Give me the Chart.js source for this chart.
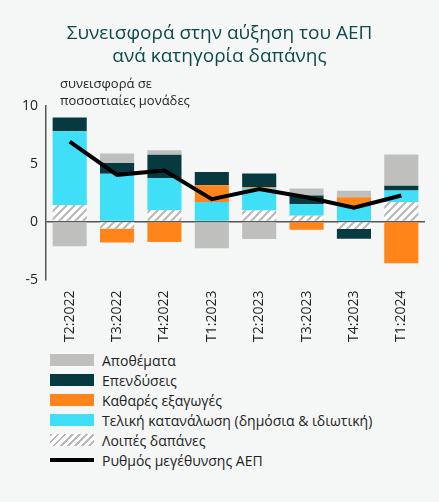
<!DOCTYPE html>
<html><head><meta charset="utf-8">
<script src="https://cdn.jsdelivr.net/npm/chart.js@4"></script>
<style>
body{margin:0;background:#f5f7f6;font-family:"Open Sans",sans-serif;}
#wrap{position:relative;width:439px;height:345px;}
#legend{position:absolute;left:50px;top:350px;font-size:14px;color:#222;}
.li{display:flex;align-items:center;height:20px;}
.sw{width:44px;height:12px;margin-right:8px;}
</style></head><body>
<div id="wrap"><canvas id="c" width="439" height="345" style="width:439px;height:345px"></canvas></div>
<div id="legend"></div>
<script>
const categories=["T2:2022","T3:2022","T4:2022","T1:2023","T2:2023","T3:2023","T4:2023","T1:2024"];
const other=[1.43,-0.6,1.0,0,0.95,0.5,-0.63,1.68];
const consumption=[6.35,4.13,2.76,1.68,1.9,1.0,1.35,1.0];
const netExports=[0,-1.2,-1.75,1.46,0.1,-0.7,0.75,-3.6];
const investment=[1.2,0.92,2.0,1.14,1.2,0.76,-0.85,0.4];
const inventories=[-2.13,0.83,0.38,-2.3,-1.5,0.6,0.55,2.7];
const gdp=[6.9,4.03,4.4,1.94,2.8,2.1,1.2,2.25];
const yTicks=[-5,0,5,10];

function hatch(){const p=document.createElement('canvas');p.width=8;p.height=8;const g=p.getContext('2d');
g.fillStyle='#ffffff';g.fillRect(0,0,8,8);g.strokeStyle='#b9b9b9';g.lineWidth=2.2;
g.beginPath();g.moveTo(0,8);g.lineTo(8,0);g.moveTo(-2,2);g.lineTo(2,-2);g.moveTo(6,10);g.lineTo(10,6);g.stroke();
return document.getElementById('c').getContext('2d').createPattern(p,'repeat');}
const hp=hatch();
const bw={barPercentage:0.72,categoryPercentage:1};
const chart=new Chart(document.getElementById('c'),{
data:{labels:categories,datasets:[
{type:'line',label:'Ρυθμός μεγέθυνσης ΑΕΠ',data:gdp,borderColor:'#000',borderWidth:4,pointRadius:0,order:0,legendOrder:6},
{type:'bar',label:'Λοιπές δαπάνες',data:other,backgroundColor:hp,order:1,legendOrder:5,...bw},
{type:'bar',label:'Τελική κατανάλωση (δημόσια & ιδιωτική)',data:consumption,backgroundColor:'#3fdff7',order:1,legendOrder:4,...bw},
{type:'bar',label:'Καθαρές εξαγωγές',data:netExports,backgroundColor:'#ff8419',order:1,legendOrder:3,...bw},
{type:'bar',label:'Επενδύσεις',data:investment,backgroundColor:'#063a40',order:1,legendOrder:2,...bw},
{type:'bar',label:'Αποθέματα',data:inventories,backgroundColor:'#bfc0bd',order:1,legendOrder:1,...bw}]},
options:{responsive:false,animation:false,devicePixelRatio:1,
layout:{padding:{top:0,right:14,left:14,bottom:0}},
plugins:{legend:{display:false},tooltip:{enabled:false},
title:{display:true,text:['Συνεισφορά στην αύξηση του ΑΕΠ','ανά κατηγορία δαπάνης'],color:'#0d4a4c',font:{family:'Open Sans',size:19,weight:'500'},padding:{top:22,bottom:38},lineHeight:1.35}},
scales:{x:{stacked:true,grid:{display:false},border:{display:false},
ticks:{color:'#222',font:{family:'Open Sans',size:14},minRotation:90,maxRotation:90}},
y:{stacked:true,min:-5,max:10,afterBuildTicks:a=>{a.ticks=yTicks.map(v=>({value:v}))},
grid:{display:true,drawOnChartArea:true,drawTicks:false,color:c=>c.tick&&c.tick.value===0?'#555':'transparent',lineWidth:1.5},
border:{display:true,color:'#555',width:1.5},ticks:{color:'#222',font:{family:'Open Sans',size:14},padding:8}}}},
plugins:[{id:'ytitle',afterDraw(ch){const g=ch.ctx;g.save();g.fillStyle='#222';g.font='13px "Open Sans"';g.textAlign='left';
g.fillText('συνεισφορά σε',60,ch.chartArea.top-18);g.fillText('ποσοστιαίες μονάδες',60,ch.chartArea.top-1);g.restore();}}]
});
const lg=document.getElementById('legend');
[...chart.data.datasets].sort((a,b)=>a.legendOrder-b.legendOrder).forEach(d=>{
const r=document.createElement('div');r.className='li';const s=document.createElement('div');s.className='sw';
if(d.type==='line'){s.style.height='4px';s.style.background='#000';}
else if(d.label==='Λοιπές δαπάνες'){s.style.background='repeating-linear-gradient(135deg,#b9b9b9 0 2px,#fff 2px 5px)';}
else s.style.background=d.backgroundColor;
r.appendChild(s);r.appendChild(document.createTextNode(d.label));lg.appendChild(r);});
</script></body></html>
